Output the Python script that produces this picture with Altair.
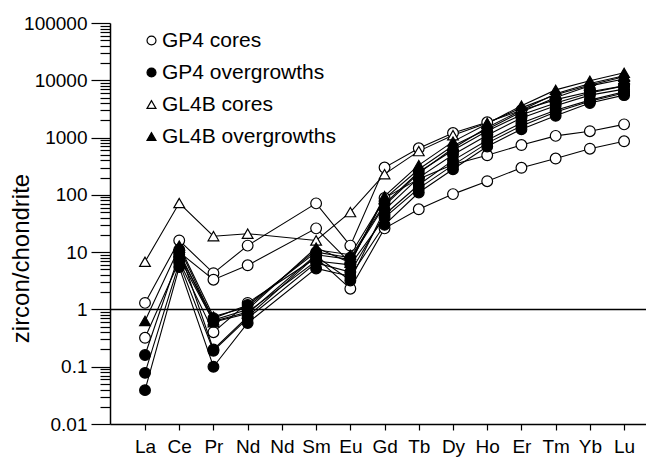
import altair as alt
import pandas as pd

# ---- data ----
elements = ["La", "Ce", "Pr", "Nd", "Nd", "Sm", "Eu", "Gd", "Tb", "Dy", "Ho", "Er", "Tm", "Yb", "Lu"]
groups = ["GP4 cores", "GP4 overgrowths", "GL4B cores", "GL4B overgrowths"]

gp4_cores = [
    [1.3, 16, 4.3, 13, None, 71, 13, 300, 650, 1200, 1850, 3000, 4600, 6300, 8000],
    [None, 10, 3.3, 5.9, None, 26, 6.5, 88, 190, 340, 490, 740, 1070, 1290, 1700],
    [0.32, 7, 0.4, 1.3, None, 8, 2.3, 26, 56, 103, 173, 297, 430, 640, 860],
]
gp4_over = [
    [0.16, 9, 0.7, 1.2, None, 10, 8, 70, 250, 600, 1300, 2500, 4000, 6000, 8000],
    [0.078, 6.5, 0.19, 0.7, None, 6.5, 4.5, 45, 150, 400, 900, 1800, 3000, 4500, 6300],
    [0.039, 5.5, 0.1, 0.58, None, 5.2, 3.8, 30, 110, 280, 700, 1400, 2400, 4000, 5500],
    [None, 8, 0.62, 0.9, None, 7, 6, 40, 130, 330, 800, 1600, 2800, 4300, 6000],
    [None, 11, 0.2, 0.75, None, 8.5, 3.2, 55, 200, 500, 1100, 2200, 3600, 5500, 7000],
]
gl4b_cores = [
    [6.8, 72, 19, 21, None, 16, 50, 230, 580, 1100, 1800, 3300, 5600, 8300, 11500],
]
gl4b_over = [
    [0.63, 12, 0.65, 1.0, None, 12, 6.5, 95, 330, 850, 1750, 3600, 6800, 9800, 13500],
    [None, 10, 0.6, 0.85, None, 9, 7.5, 65, 240, 650, 1500, 3000, 5800, 8800, 12000],
    [None, 13, 0.75, 1.1, None, 11, 9, 85, 280, 720, 1400, 2800, 5000, 8000, 10500],
]

major_ticks = [0.01, 0.1, 1, 10, 100, 1000, 10000, 100000]
minor_mult = [2, 3, 4, 5, 6, 7, 8, 9]
reference_level = [1]

# ---- long table ----
rows = []
sid = 0
for gname, series in zip(groups, [gp4_cores, gp4_over, gl4b_cores, gl4b_over]):
    for s in series:
        for i, v in enumerate(s):
            if v is not None:
                rows.append({"sid": sid, "group": gname, "pos": i, "value": v})
        sid += 1
df = pd.DataFrame(rows)

tick_values = []
for m in major_ticks[:-1]:
    tick_values.append(m)
    for k in minor_mult:
        tick_values.append(round(m * k, 6))
tick_values.append(major_ticks[-1])

majors_js = "[" + ",".join(repr(v) for v in major_ticks) + "]"
labels_js = "[" + ",".join("'" + e + "'" for e in elements) + "]"

FONT = "Liberation Sans"

x_axis = alt.Axis(
    values=list(range(len(elements))),
    labelExpr=labels_js + "[datum.value]",
    title=None, grid=False, tickSize=6, tickWidth=1.2, tickColor="black",
    domainColor="black", domainWidth=1.5, labelFont=FONT, labelFontSize=19,
    labelColor="black", labelPadding=7, labelOverlap=False, labelFlush=False,
)
y_axis = alt.Axis(
    values=tick_values,
    labelExpr="indexof(" + majors_js + ", datum.value) >= 0 ? format(datum.value, '~g') : ''",
    title="zircon/chondrite", titleFont=FONT, titleFontSize=24, titleFontWeight="normal",
    titleColor="black", titleAngle=270, titleX=-82, titleY=235, titleAlign="center",
    titleBaseline="alphabetic",
    grid=False,
    tickSize={"condition": {"test": "indexof(" + majors_js + ", datum.value) >= 0", "value": 19}, "value": 10},
    tickWidth=1.2, tickColor="black", domainColor="black", domainWidth=1.5,
    labelFont=FONT, labelFontSize=19, labelColor="black", labelPadding=4,
    labelOverlap=False, labelFlush=False,
)
x_scale = alt.Scale(domain=[-1.023, 14.64], nice=False, zero=False)
y_scale = alt.Scale(type="log", domain=[0.01, 100000], nice=False)

leg = alt.Legend(
    title=None, orient="none", legendX=31, legendY=7, labelFont=FONT, labelFontSize=21,
    labelColor="black", labelLimit=400, symbolSize=80, symbolStrokeWidth=1.2,
    symbolStrokeColor="black", rowPadding=10, labelOffset=0, padding=0,
)

base = alt.Chart(df)

lines = base.mark_line(color="black", strokeWidth=1.1).encode(
    x=alt.X("pos:Q", scale=x_scale, axis=x_axis),
    y=alt.Y("value:Q", scale=y_scale, axis=y_axis),
    detail="sid:N", order="pos:Q",
)
points = base.mark_point(filled=False, strokeWidth=1.2, opacity=1, size=115).encode(
    x=alt.X("pos:Q", scale=x_scale, axis=x_axis),
    y=alt.Y("value:Q", scale=y_scale, axis=y_axis),
    shape=alt.Shape("group:N", scale=alt.Scale(domain=groups,
                    range=["circle", "circle", "triangle-up", "triangle-up"]), legend=leg),
    fill=alt.Fill("group:N", scale=alt.Scale(domain=groups,
                  range=["white", "black", "white", "black"]), legend=leg),
    stroke=alt.Stroke("group:N", scale=alt.Scale(domain=groups,
                      range=["black", "black", "black", "black"]), legend=leg),
)
hline = alt.Chart(pd.DataFrame({"value": reference_level})).mark_rule(color="black", strokeWidth=1.5).encode(
    y=alt.Y("value:Q", scale=y_scale, axis=y_axis)
)

chart = (
    alt.layer(hline, lines, points)
    .properties(width=536, height=401, autosize=alt.AutoSizeParams(type="none"),
                padding={"left": 102, "top": 15, "right": 0, "bottom": 34},
                background="white")
    .configure_view(stroke=None)
)

chart.save("out.html", embed_options={"renderer": "svg", "actions": False})
